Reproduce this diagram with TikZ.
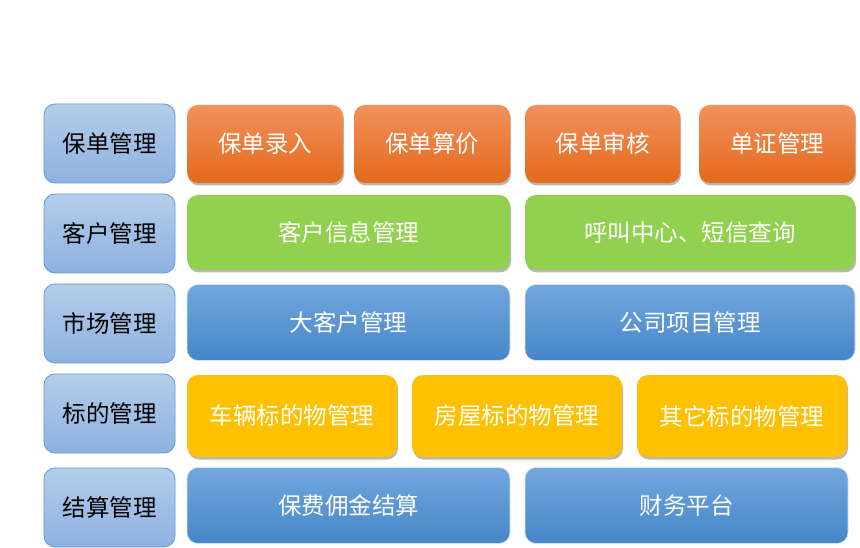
\documentclass[tikz,border=0pt]{standalone}
\usepackage{fontspec}
\setmainfont{Noto Sans CJK SC}
\usetikzlibrary{shadows}

\definecolor{catTop}{HTML}{B4CDEA}
\definecolor{catBot}{HTML}{8DB1E0}
\definecolor{catLine}{HTML}{5F9BD8}
\definecolor{orTop}{HTML}{F1915C}
\definecolor{orMid}{HTML}{F47E30}
\definecolor{orBot}{HTML}{E4691A}
\definecolor{grFill}{HTML}{92D050}
\definecolor{blTop}{HTML}{72A7DE}
\definecolor{blMid}{HTML}{5B9BD9}
\definecolor{blBot}{HTML}{4586C7}
\definecolor{yeFill}{HTML}{FFC000}

\tikzset{
    modbox/.style={rounded corners=11pt, inner sep=0pt,
        font=\fontsize{23.5}{23.5}\selectfont, text=white},
    shadowed/.style={drop shadow={shadow xshift=1pt, shadow yshift=-2.5pt,
        opacity=0.4, fill=black!70}},
    catbox/.style={modbox, text=black, draw=catLine, line width=0.8pt,
        top color=catTop, bottom color=catBot,
        minimum width=131pt, minimum height=79pt},
    orbox/.style={modbox, shadowed, top color=orTop, middle color=orMid,
        bottom color=orBot, minimum width=156pt, minimum height=78pt},
    grbox/.style={modbox, shadowed, fill=grFill, minimum height=75pt},
    blbox/.style={modbox, draw=white!70!blTop, line width=0.6pt,
        top color=blTop, middle color=blMid, bottom color=blBot,
        minimum height=76pt},
    yebox/.style={modbox, shadowed, fill=yeFill,
        minimum width=210pt, minimum height=82pt}
}

\begin{document}
\begin{tikzpicture}[x=1pt, y=-1pt]
    \useasboundingbox (0,0) rectangle (860,548);

    % left column
    \node[catbox] (policy)  at (109.5,143.5) {保单管理};
    \node[catbox] (client)  at (109.5,233.5) {客户管理};
    \node[catbox] (market)  at (109.5,323.5) {市场管理};
    \node[catbox] (object)  at (109.5,413.5) {标的管理};
    \node[catbox] (settle)  at (109.5,507.5) {结算管理};

    % policy row
    \node[orbox] (policyIn)    at (265,144)   {保单录入};
    \node[orbox] (policyPrice) at (432,144)   {保单算价};
    \node[orbox, minimum width=155pt] (policyCheck) at (602.5,144) {保单审核};
    \node[orbox] (docMgmt)     at (777,144)   {单证管理};

    % client row
    \node[grbox, minimum width=323pt] (clientInfo) at (348.5,232.5) {客户信息管理};
    \node[grbox, minimum width=330pt] (callCenter) at (690,232.5)   {呼叫中心、短信查询};

    % market row
    \node[blbox, minimum width=323pt] (bigClient)  at (348.5,322.5) {大客户管理};
    \node[blbox, minimum width=330pt] (project)    at (690,322.5)   {公司项目管理};

    % object row
    \node[yebox] (vehicle) at (292,416)   {车辆标的物管理};
    \node[yebox] (house)   at (517,416)   {房屋标的物管理};
    \node[yebox] (other)   at (742,416)   {其它标的物管理};

    % settlement row
    \node[blbox, minimum width=323pt] (commission) at (348.5,505.5) {保费佣金结算};
    \node[blbox, minimum width=323pt] (finance)    at (686.5,505.5) {财务平台};
\end{tikzpicture}
\end{document}
